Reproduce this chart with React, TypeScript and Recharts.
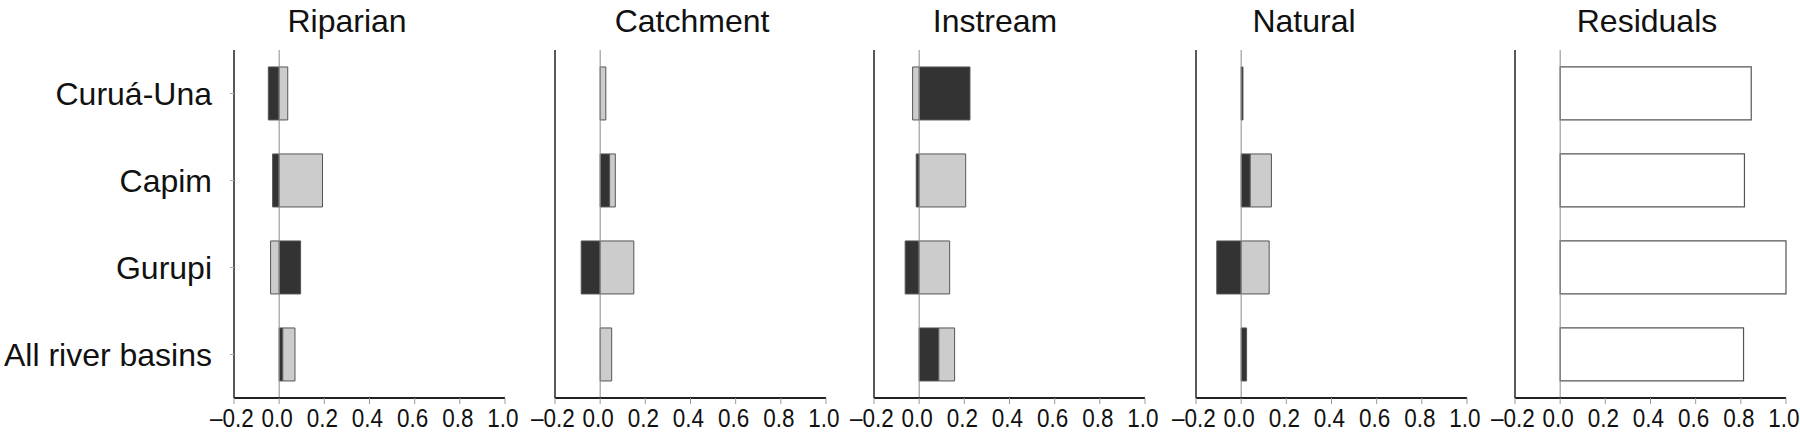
import { BarChart, Bar, XAxis, YAxis, ReferenceLine } from "recharts";

const basins = ["Curuá-Una", "Capim", "Gurupi", "All river basins"];

// pure (dark) and shared (light) fractions per predictor group
const riparianPure = [-0.048, -0.029, 0.095, 0.016];
const riparianShared = [0.038, 0.192, -0.038, 0.054];
const catchmentPure = [0, 0.042, -0.084, 0];
const catchmentShared = [0.025, 0.025, 0.149, 0.051];
const instreamPure = [0.225, -0.013, -0.062, 0.087];
const instreamShared = [-0.029, 0.206, 0.135, 0.07];
const naturalPure = [0.008, 0.04, -0.108, 0.024];
const naturalShared = [0, 0.094, 0.124, 0];
const residuals = [0.846, 0.816, 1.0, 0.812];

const xTicks = [-0.2, 0, 0.2, 0.4, 0.6, 0.8, 1.0];

const FONT = "'Liberation Sans', Arial, Helvetica, sans-serif";
const DARK = "#333333";
const LIGHT = "#cccccc";
const EDGE = "#555555";

interface PanelDef {
  title: string;
  pure: number[];
  shared?: number[];
  axisX: number;
  titleX: number;
  residual?: boolean;
}

const panels: PanelDef[] = [
  { title: "Riparian", pure: riparianPure, shared: riparianShared, axisX: 234, titleX: 347 },
  { title: "Catchment", pure: catchmentPure, shared: catchmentShared, axisX: 555, titleX: 692 },
  { title: "Instream", pure: instreamPure, shared: instreamShared, axisX: 874, titleX: 995 },
  { title: "Natural", pure: naturalPure, shared: naturalShared, axisX: 1196, titleX: 1304 },
  { title: "Residuals", pure: residuals, axisX: 1515, titleX: 1647, residual: true },
];

const fmt = (v: number) => (v < 0 ? "\u2013" : "") + Math.abs(v).toFixed(1);

// tick labels in the source are a narrow sans, so squeeze them a bit
function XTick(props: any) {
  const { x, y, payload } = props;
  const label = fmt(payload.value);
  const fs = 25;
  const natural = (label.startsWith("\u2013") ? 0.556 : 0) + 1.39;
  return (
    <text
      x={x - 2}
      y={y}
      dy={fs * 0.71}
      textAnchor="middle"
      fontSize={fs}
      fontFamily={FONT}
      fill="#111"
      textLength={natural * fs * 0.9}
      lengthAdjust="spacingAndGlyphs"
    >
      {label}
    </text>
  );
}

function Panel({ p, first }: { p: PanelDef; first: boolean }) {
  const yw = first ? p.axisX : 30;
  const left = p.axisX - yw;
  const right = 26;
  const width = yw + 271 + right;
  const data = basins.map((b, i) => ({
    basin: b,
    pure: p.pure[i],
    shared: p.shared ? p.shared[i] : 0,
  }));

  return (
    <div style={{ position: "absolute", left, top: 0 }}>
      <BarChart
        width={width}
        height={442}
        data={data}
        layout="vertical"
        stackOffset="sign"
        barCategoryGap="19.5%"
        margin={{ top: 50, right, bottom: 0, left: 0 }}
      >
        <XAxis
          type="number"
          domain={[-0.2, 1]}
          ticks={xTicks}
          height={44}
          axisLine={{ stroke: "#222", strokeWidth: 1.8 }}
          tickLine={{ stroke: "#999" }}
          tickSize={6}
          tickMargin={5}
          tick={<XTick />}
        />
        <YAxis
          type="category"
          dataKey="basin"
          width={yw}
          interval={0}
          axisLine={{ stroke: "#222", strokeWidth: 1.5 }}
          tickLine={{ stroke: "#aaa" }}
          tickSize={4}
          tickMargin={18}
          tick={first ? { fontSize: 32, fill: "#111", fontFamily: FONT } : false}
        />
        <ReferenceLine x={0} stroke="#8a8a8a" strokeWidth={1} />
        {p.residual ? (
          <Bar dataKey="pure" fill="#ffffff" stroke={EDGE} strokeWidth={1.2} isAnimationActive={false} />
        ) : (
          <Bar dataKey="pure" stackId="a" fill={DARK} stroke={EDGE} strokeWidth={1} isAnimationActive={false} />
        )}
        {!p.residual && (
          <Bar dataKey="shared" stackId="a" fill={LIGHT} stroke={EDGE} strokeWidth={1} isAnimationActive={false} />
        )}
      </BarChart>
    </div>
  );
}

export default function App() {
  return (
    <div style={{ position: "absolute", left: 0, top: 0, width: 1800, height: 442, background: "#fff", overflow: "hidden" }}>
      {panels.map((p, i) => (
        <Panel key={p.title} p={p} first={i === 0} />
      ))}
      <svg width={1800} height={442} style={{ position: "absolute", left: 0, top: 0, pointerEvents: "none" }}>
        {panels.map((p) => (
          <text key={p.title} x={p.titleX} y={32} textAnchor="middle" fontSize={32} fontFamily={FONT} fill="#111">
            {p.title}
          </text>
        ))}
      </svg>
    </div>
  );
}
